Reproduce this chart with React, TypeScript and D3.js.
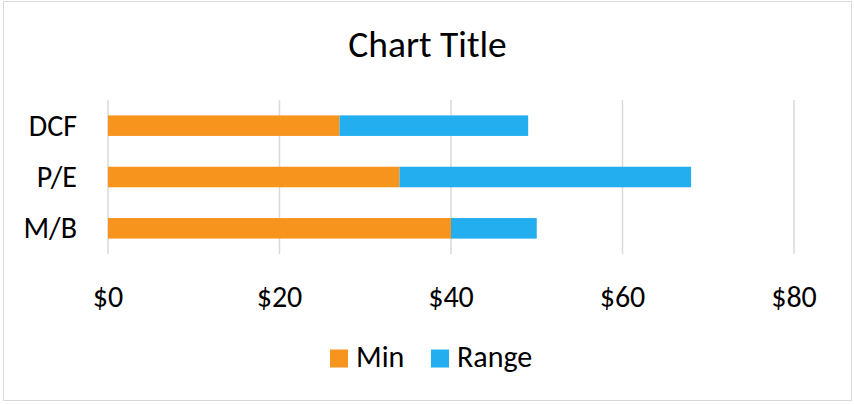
import React from "react";
import * as d3 from "d3";

const categories = ["DCF", "P/E", "M/B"];
const minValues = [27, 34, 40];
const rangeValues = [22, 34, 10];
const seriesNames = ["Min", "Range"];
const xTicks = [0, 20, 40, 60, 80];
const title = "Chart Title";

const W = 854;
const H = 404;
const COLORS = ["#F7941D", "#22AEEF"];
const FONT = "Calibri, Carlito, Lato, sans-serif";

export default function App() {
  const x = d3.scaleLinear().domain([0, 80]).range([108, 794]);
  const y = d3
    .scaleBand<string>()
    .domain(categories)
    .range([100, 254])
    .paddingInner(0.6)
    .paddingOuter(0.3);

  const rows = categories.map((c, i) => ({ cat: c, Min: minValues[i], Range: rangeValues[i] }));
  const stacked = d3.stack<any>().keys(seriesNames)(rows);
  const fmt = (v: number) => "$" + d3.format(",d")(v);

  return (
    <svg
      width={W}
      height={H}
      style={{ position: "absolute", left: 0, top: 0, background: "#fff" }}
      fontFamily={FONT}
    >
      <rect x={3.5} y={1.5} width={848} height={399} fill="#fff" stroke="#D9D9D9" strokeWidth={1} />
      <text x={427.5} y={56.5} textAnchor="middle" fontSize={37.5} fill="#000">
        {title}
      </text>
      {xTicks.map((t) => (
        <line key={"g" + t} x1={x(t)} x2={x(t)} y1={100} y2={254} stroke="#D9D9D9" strokeWidth={1.5} />
      ))}
      {stacked.map((s, si) =>
        s.map((d, i) => (
          <rect
            key={seriesNames[si] + i}
            x={x(d[0])}
            width={x(d[1]) - x(d[0])}
            y={y(categories[i])!}
            height={y.bandwidth()}
            fill={COLORS[si]}
          />
        ))
      )}
      {categories.map((c) => (
        <text
          key={c}
          x={77}
          y={y(c)! + y.bandwidth() / 2 + 10}
          textAnchor="end"
          fontSize={30}
          fill="#000"
        >
          {c}
        </text>
      ))}
      {xTicks.map((t) => (
        <text key={"t" + t} x={x(t)} y={306.5} textAnchor="middle" fontSize={30} fill="#000">
          {fmt(t)}
        </text>
      ))}
      {seriesNames.map((n, i) => {
        const lx = i === 0 ? 330 : 431;
        return (
          <g key={n}>
            <rect x={lx} y={349.5} width={18} height={18} fill={COLORS[i]} />
            <text x={lx + 26} y={366.5} fontSize={30} fill="#000">
              {n}
            </text>
          </g>
        );
      })}
    </svg>
  );
}
